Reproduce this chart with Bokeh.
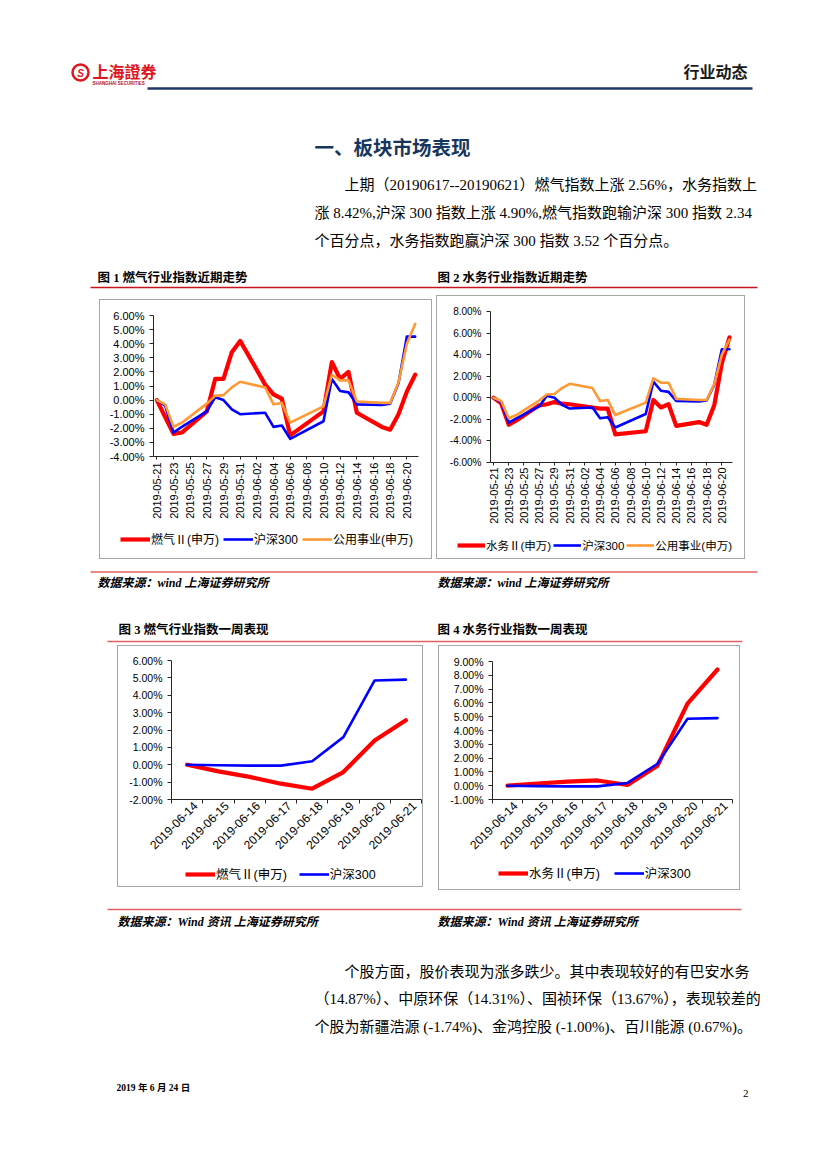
import math
import pandas as pd
from bokeh.plotting import figure
from bokeh.layouts import column, row
from bokeh.models import (Range1d, FixedTicker, PrintfTickFormatter, Legend, LegendItem, Spacer)
from bokeh.core.properties import value
from bokeh.embed import file_html
from bokeh.resources import INLINE

# ---------------- data ----------------
trade_dates = ["2019-05-21", "2019-05-22", "2019-05-23", "2019-05-24", "2019-05-27", "2019-05-28",
               "2019-05-29", "2019-05-30", "2019-05-31", "2019-06-03", "2019-06-04", "2019-06-05",
               "2019-06-06", "2019-06-10", "2019-06-11", "2019-06-12", "2019-06-13", "2019-06-14",
               "2019-06-17", "2019-06-18", "2019-06-19", "2019-06-20", "2019-06-21"]
gas_idx = [0.0, -1.2, -2.4, -2.3, -0.8, 1.5, 1.5, 3.4, 4.2, 1.1, 0.4, 0.1, -2.5, -0.8, 2.7, 1.5,
           2.0, -0.9, -1.9, -2.1, -1.0, 0.6, 1.8]
water_idx = [0.0, -0.5, -2.5, -2.1, -0.7, -0.6, -0.4, -0.55, -0.6, -0.9, -1.0, -1.0, -3.4, -3.1,
             -0.2, -0.9, -0.6, -2.6, -2.25, -2.5, -0.7, 3.2, 5.6]
hs300_idx = [0.0, -0.4, -2.3, -1.9, -0.8, 0.2, 0.0, -0.65, -1.0, -0.9, -1.9, -1.8, -2.75, -1.5,
             1.5, 0.65, 0.55, -0.3, -0.35, -0.25, 1.2, 4.5, 4.5]
util_idx = [0.0, -0.3, -1.9, -1.6, -0.25, 0.3, 0.35, 0.9, 1.3, 0.9, -0.3, -0.2, -1.6, -0.45, 1.8,
            1.4, 1.4, -0.1, -0.2, -0.2, 1.25, 4.0, 5.4]
date_tick_labels = ["2019-05-21", "2019-05-23", "2019-05-25", "2019-05-27", "2019-05-29",
                    "2019-05-31", "2019-06-02", "2019-06-04", "2019-06-06", "2019-06-08",
                    "2019-06-10", "2019-06-12", "2019-06-14", "2019-06-16", "2019-06-18",
                    "2019-06-20"]

week_dates = ["2019-06-14", "2019-06-15", "2019-06-16", "2019-06-17", "2019-06-18", "2019-06-19",
              "2019-06-20", "2019-06-21"]
gas_week = [0.0, -0.38, -0.70, -1.09, -1.38, -0.42, 1.40, 2.56]
water_week = [0.0, 0.16, 0.29, 0.38, 0.05, 1.45, 5.95, 8.42]
hs300_week = [0.0, -0.03, -0.05, -0.05, 0.20, 1.59, 4.85, 4.90]

chart1_ticks = [-4, -3, -2, -1, 0, 1, 2, 3, 4, 5, 6]
chart2_ticks = [-6, -4, -2, 0, 2, 4, 6, 8]
chart3_ticks = [-2, -1, 0, 1, 2, 3, 4, 5, 6]
chart4_ticks = [-1, 0, 1, 2, 3, 4, 5, 6, 7, 8, 9]

RED = "#FF0000"
BLUE = "#0000FF"
ORANGE = "#FF9933"
GREY = "#A6A6A6"
AXIS = "#262626"
SANS = "Liberation Sans, Noto Sans CJK SC"
SERIF = "Liberation Serif, Noto Sans CJK SC"
CJK = "Noto Sans CJK SC"
RED_W = 4.2
THIN_W = 2.6
BODY = "15px"

t0 = pd.Timestamp(trade_dates[0])
xdays = [(pd.Timestamp(d) - t0).days for d in trade_dates]
tick_pos = [(pd.Timestamp(d) - t0).days for d in date_tick_labels]
week_x = list(range(len(week_dates)))


# ---------------- chart helpers ----------------
def base_chart(width, height, left, right, top, bottom, x_range, y_range, yticks, ysize):
    p = figure(width=width, height=height, x_range=x_range, y_range=y_range,
               output_backend="svg", toolbar_location=None,
               min_border_left=left, min_border_right=right,
               min_border_top=top, min_border_bottom=bottom)
    p.grid.visible = False
    p.outline_line_color = None
    p.background_fill_color = "white"
    p.border_fill_color = "white"
    ya = p.yaxis[0]
    ya.ticker = FixedTicker(ticks=yticks)
    ya.formatter = PrintfTickFormatter(format="%.2f%%")
    ya.major_tick_out = 4
    ya.major_tick_in = 0
    ya.minor_tick_out = 0
    ya.minor_tick_in = 0
    ya.major_label_standoff = 5
    ya.major_label_text_font = SANS
    ya.major_label_text_font_size = ysize
    ya.major_label_text_color = "#000000"
    ya.axis_line_color = AXIS
    ya.major_tick_line_color = AXIS
    xa = p.xaxis[0]
    xa.axis_line_color = AXIS
    xa.major_label_text_font = SANS
    xa.major_label_text_color = "#000000"
    xa.major_tick_line_color = AXIS
    xa.minor_tick_line_color = AXIS
    return p


def legend_fig(width, height, entries, vx, vy, glyph_w, font_size, spacing):
    # legend-only panel: the series are drawn here too, but outside the visible ranges,
    # so only their legend swatches appear
    lf = figure(width=width, height=height, x_range=Range1d(-1000, -999),
                y_range=Range1d(-1000, -999), x_axis_type=None, y_axis_type=None,
                output_backend="svg", toolbar_location=None, min_border=0)
    lf.outline_line_color = None
    lf.background_fill_color = "white"
    lf.border_fill_color = "white"
    items = []
    for lab, xs, ys, color, lw in entries:
        r = lf.line(x=xs, y=ys, line_color=color, line_width=lw, line_cap="butt")
        items.append(LegendItem(label=lab, renderers=[r]))
    lg = Legend(items=items, orientation="horizontal", location=(vx, vy), glyph_width=glyph_w,
                glyph_height=16, label_height=16, label_standoff=1, spacing=spacing,
                padding=0, margin=0, background_fill_alpha=0, border_line_color=None,
                label_text_font=SANS, label_text_font_size=font_size,
                label_text_color="#000000")
    lf.add_layout(lg)
    return lf


def daily_chart(width, height, top, frame_h, right, yr, yticks, main_vals, ysize, xstand):
    p = base_chart(width, height, 53, right, top, height - top - frame_h,
                   Range1d(-0.4, 31.4), yr, yticks, ysize)
    xa = p.xaxis[0]
    xa.ticker = FixedTicker(ticks=tick_pos)
    xa.major_label_overrides = {float(t): lab for t, lab in zip(tick_pos, date_tick_labels)}
    xa.major_label_orientation = math.pi / 2
    xa.major_label_text_font_size = "11px"
    xa.major_tick_out = 3
    xa.major_tick_in = 0
    xa.minor_tick_out = 0
    xa.minor_tick_in = 0
    xa.major_label_standoff = xstand
    p.line(xdays, main_vals, line_color=RED, line_width=RED_W, line_join="round",
           line_cap="round")
    p.line(xdays, hs300_idx, line_color=BLUE, line_width=THIN_W, line_join="round",
           line_cap="round")
    p.line(xdays, util_idx, line_color=ORANGE, line_width=THIN_W, line_join="round",
           line_cap="round")
    return p


def weekly_chart(width, height, top, frame_h, frame_w, yr, yticks, main_vals):
    right = width - 53 - frame_w
    p = base_chart(width, height, 53, right, top, height - top - frame_h,
                   Range1d(-0.5, len(week_dates) - 0.5), yr, yticks, "10.5px")
    xa = p.xaxis[0]
    bounds = [i + 0.5 for i in range(-1, len(week_dates))]
    label_pos = [i + 0.26 for i in week_x]
    xa.ticker = FixedTicker(ticks=label_pos, minor_ticks=bounds)
    xa.major_label_overrides = {float(t): d for t, d in zip(label_pos, week_dates)}
    xa.major_label_orientation = math.pi / 4
    xa.major_label_text_font_size = "12px"
    xa.major_tick_out = 0
    xa.major_tick_in = 0
    xa.minor_tick_out = 4
    xa.minor_tick_in = 0
    xa.major_label_standoff = 0
    p.line(week_x, main_vals, line_color=RED, line_width=RED_W, line_join="round",
           line_cap="round")
    p.line(week_x, hs300_week, line_color=BLUE, line_width=THIN_W, line_join="round",
           line_cap="round")
    return p


def boxed(inner, w, h):
    def g(ww, hh):
        return Spacer(width=ww, height=hh, styles={"background-color": GREY})
    return column(g(w, 1), row(g(1, h - 2), inner, g(1, h - 2)), g(w, 1))


# chart 1 (box 333x260, interior 331x258)
c1 = daily_chart(331, 222, 15, 141, 13, Range1d(-4, 6), chart1_ticks, gas_idx, "11px", 3)
l1 = legend_fig(331, 36, [("燃气Ⅱ(申万)", xdays, gas_idx, RED, RED_W),
                          ("沪深300", xdays, hs300_idx, BLUE, THIN_W),
                          ("公用事业(申万)", xdays, util_idx, ORANGE, THIN_W)],
                20, 11, 30, "12px", 4)
# chart 2 (box 309x264, interior 307x262)
c2 = daily_chart(307, 232, 15, 151, 12, Range1d(-6, 8), chart2_ticks, water_idx, "10px", 2)
l2 = legend_fig(307, 30, [("水务Ⅱ(申万)", xdays, water_idx, RED, RED_W),
                          ("沪深300", xdays, hs300_idx, BLUE, THIN_W),
                          ("公用事业(申万)", xdays, util_idx, ORANGE, THIN_W)],
                20, 5, 28, "11.5px", 2)
# chart 3 (box 306x242, interior 304x240)
c3 = weekly_chart(304, 211, 14, 139, 250, Range1d(-2, 6), chart3_ticks, gas_week)
l3 = legend_fig(304, 29, [("燃气Ⅱ(申万)", week_x, gas_week, RED, RED_W),
                          ("沪深300", week_x, hs300_week, BLUE, THIN_W)],
                67, 3, 30, "12.5px", 12)
# chart 4 (box 302x245, interior 300x243)
c4 = weekly_chart(300, 211, 15, 138, 240, Range1d(-1, 9), chart4_ticks, water_week)
l4 = legend_fig(300, 32, [("水务Ⅱ(申万)", week_x, water_week, RED, RED_W),
                          ("沪深300", week_x, hs300_week, BLUE, THIN_W)],
                59, 7, 30, "12.5px", 14)


# ---------------- page strips ----------------
def page_strip(y0, y1):
    p = figure(width=819, height=y1 - y0, x_range=Range1d(0, 819), y_range=Range1d(y1, y0),
               x_axis_type=None, y_axis_type=None, output_backend="svg",
               toolbar_location=None, min_border=0)
    p.outline_line_color = None
    p.background_fill_color = "white"
    p.border_fill_color = "white"
    return p


def put(p, x, y, s, size, font=SERIF, style="normal", color="#000000", align="left"):
    p.text(x=[x], y=[y], text=[s], text_font=value(font), text_font_size=size,
           text_font_style=style, text_color=color, text_align=align, text_baseline="middle")


top = page_strip(0, 293)
# logo
top.circle(x=[80], y=[72], radius=8, fill_color=None, line_color="#E0161E", line_width=2.5)
put(top, 80, 72.5, "S", "10px", font=SANS, style="bold italic", color="#E0161E", align="center")
put(top, 92, 70, "上海證券", "16px", font=CJK, style="bold", color="#E0161E")
put(top, 92, 83, "SHANGHAI SECURITIES", "4.5px", font=SANS, style="bold", color="#B0101A")
top.segment(x0=[147], y0=[88], x1=[752], y1=[88], line_color="#1F3864", line_width=2.5)
put(top, 683, 70, "行业动态", "16px", font=CJK, style="bold", color="#1A1A1A")
put(top, 314, 146, "一、板块市场表现", "19.5px", font=CJK, style="bold", color="#17365D")
put(top, 344, 184, "上期（20190617--20190621）燃气指数上涨 2.56%，水务指数上", BODY)
put(top, 314, 212, "涨 8.42%,沪深 300 指数上涨 4.90%,燃气指数跑输沪深 300 指数 2.34", BODY)
put(top, 314, 240, "个百分点，水务指数跑赢沪深 300 指数 3.52 个百分点。", BODY)
put(top, 97, 277, "图 1 燃气行业指数近期走势", "12.5px", style="bold")
put(top, 437, 277, "图 2 水务行业指数近期走势", "12.5px", style="bold")
top.segment(x0=[90], y0=[287], x1=[757], y1=[287], line_color="#C8141E", line_width=1.5)

mid = page_strip(559, 645)
mid.segment(x0=[90], y0=[571.5], x1=[757], y1=[571.5], line_color="#E06060", line_width=1.5)
put(mid, 97, 582, "数据来源：wind 上海证券研究所", "12px", style="bold italic")
put(mid, 437, 582, "数据来源：wind 上海证券研究所", "12px", style="bold italic")
put(mid, 118, 629, "图 3 燃气行业指数一周表现", "12.5px", style="bold")
put(mid, 437, 629, "图 4 水务行业指数一周表现", "12.5px", style="bold")
mid.segment(x0=[107], y0=[641], x1=[742], y1=[641], line_color="#E06060", line_width=1.5)

bot = page_strip(890, 1161)
bot.segment(x0=[107], y0=[909], x1=[741], y1=[909], line_color="#E06060", line_width=1.5)
put(bot, 117, 921, "数据来源：Wind 资讯 上海证券研究所", "12px", style="bold italic")
put(bot, 437, 921, "数据来源：Wind 资讯 上海证券研究所", "12px", style="bold italic")
put(bot, 344, 971, "个股方面，股价表现为涨多跌少。其中表现较好的有巴安水务", BODY)
put(bot, 314, 998, "（14.87%）、中原环保（14.31%）、国祯环保（13.67%），表现较差的", BODY)
put(bot, 314, 1026, "个股为新疆浩源 (-1.74%)、金鸿控股 (-1.00%)、百川能源 (0.67%)。", BODY)
put(bot, 116, 1087, "2019 年 6 月 24 日", "9.5px", style="bold")
put(bot, 748, 1093, "2", "11px", align="right")

row1 = row(Spacer(width=99, height=266),
           column(Spacer(width=333, height=6), boxed(column(c1, row(l1)), 333, 260)),
           Spacer(width=4, height=266),
           column(Spacer(width=309, height=2), boxed(column(c2, row(l2)), 309, 264)))
row2 = row(Spacer(width=117, height=245),
           boxed(column(c3, row(l3)), 306, 242),
           Spacer(width=15, height=245),
           boxed(column(c4, row(l4)), 302, 245))

page = column(top, row1, mid, row2, bot)
open("out.html", "w").write(file_html(page, INLINE))
